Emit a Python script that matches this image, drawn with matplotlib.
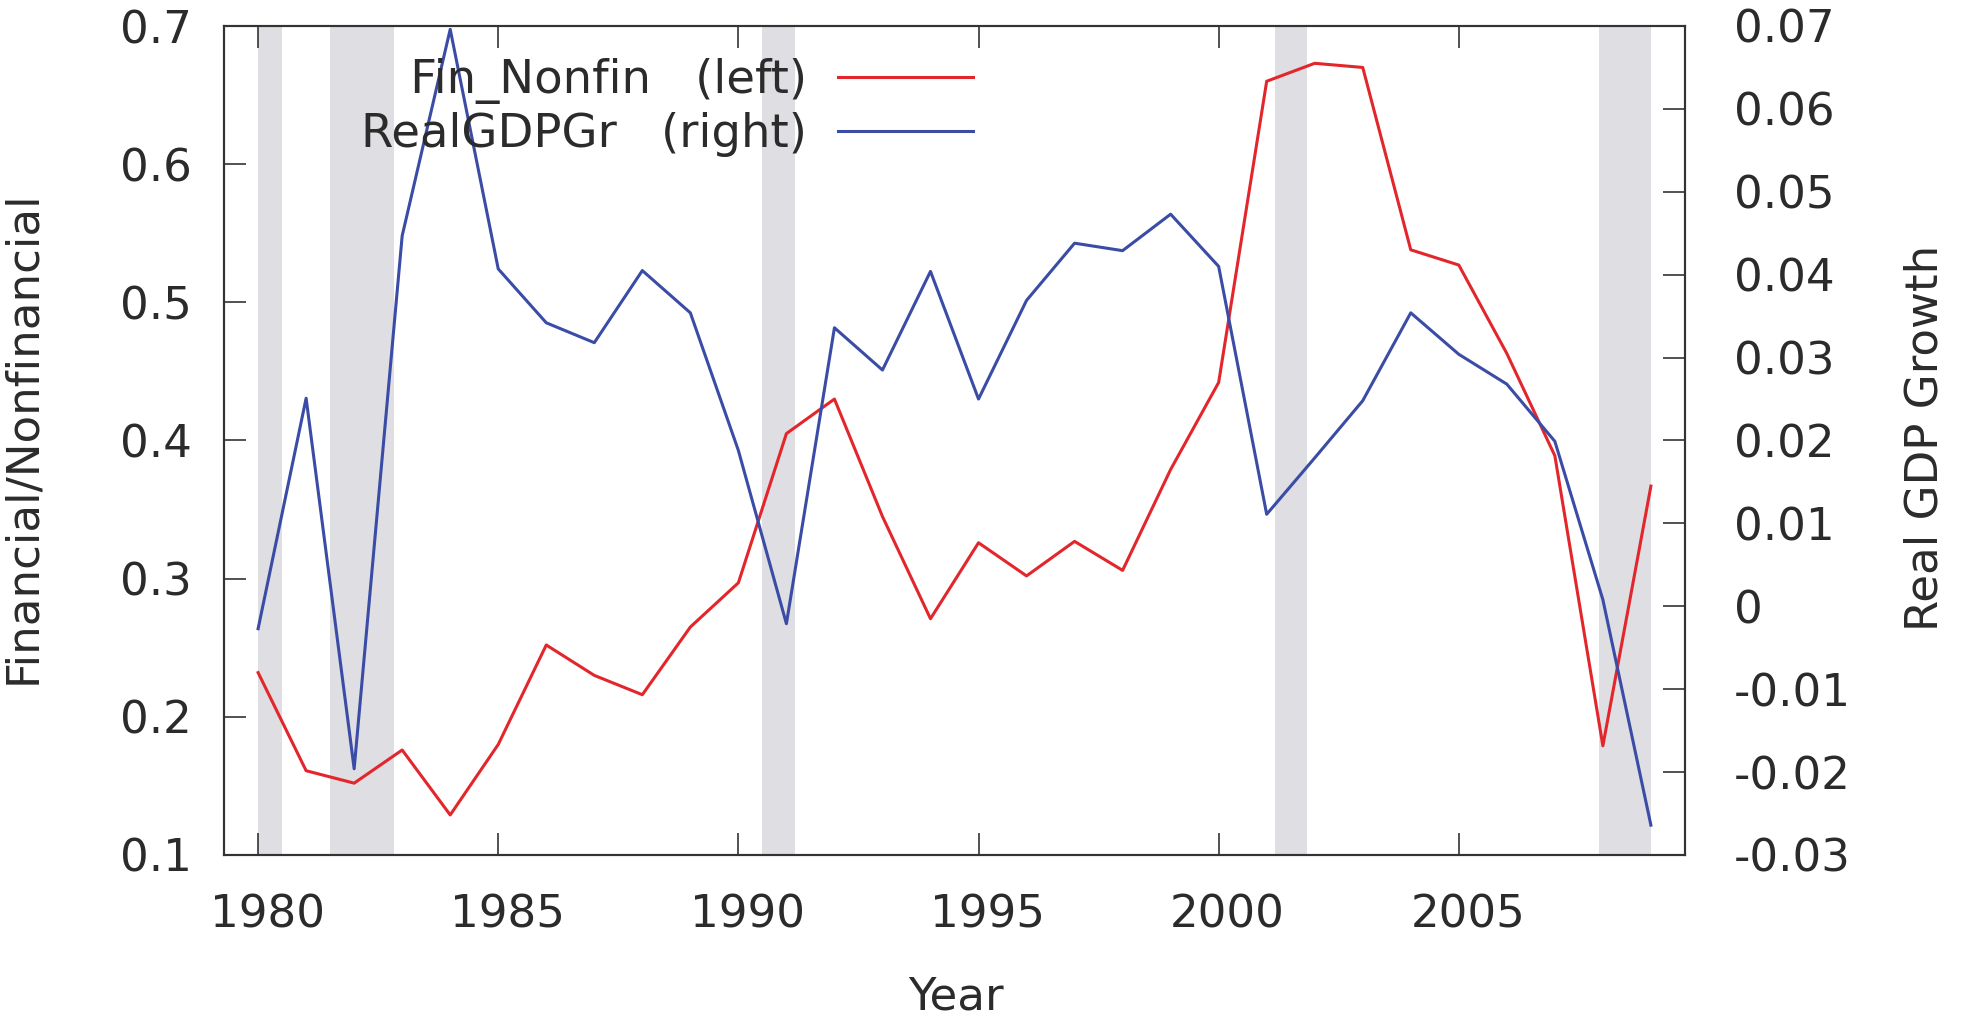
import matplotlib
matplotlib.use("Agg")
import matplotlib.pyplot as plt
import matplotlib.transforms as mtransforms
import numpy as np

years = list(range(1980, 2010))
fin_nonfin = [0.232, 0.161, 0.152, 0.176, 0.129, 0.180, 0.252, 0.230, 0.216, 0.265,
              0.297, 0.405, 0.430, 0.345, 0.271, 0.326, 0.302, 0.327, 0.306, 0.379,
              0.442, 0.660, 0.673, 0.670, 0.538, 0.527, 0.463, 0.389, 0.179, 0.367]
real_gdp_gr = [-0.0027, 0.0251, -0.0196, 0.0447, 0.0696, 0.0407, 0.0342, 0.0318, 0.0405, 0.0354,
               0.0188, -0.0021, 0.0336, 0.0285, 0.0404, 0.0250, 0.0369, 0.0438, 0.0429, 0.0473,
               0.0410, 0.0111, 0.0179, 0.0248, 0.0354, 0.0304, 0.0268, 0.0199, 0.0008, -0.0264]
recessions = [(1980.0, 1980.5), (1981.5, 1982.83), (1990.5, 1991.17),
              (2001.17, 2001.83), (2007.92, 2009.0)]
xticks = [1980, 1985, 1990, 1995, 2000, 2005]
left_ticks = [0.1, 0.2, 0.3, 0.4, 0.5, 0.6, 0.7]
right_ticks = [-0.03, -0.02, -0.01, 0, 0.01, 0.02, 0.03, 0.04, 0.05, 0.06, 0.07]
right_labels = ["-0.03", "-0.02", "-0.01", "0", "0.01", "0.02", "0.03", "0.04", "0.05", "0.06", "0.07"]

TXT = "#2b2b2b"
FS = 32.5
LFS = 33.5
plt.rcParams['font.family'] = ['DejaVu Sans']
plt.rcParams['text.color'] = TXT

fig = plt.figure(figsize=(19.61, 10.17), dpi=100)
ax = fig.add_axes([224/1961, 1-855/1017, (1685-224)/1961, (855-26)/1017])
ax2 = ax.twinx()

for a, b in recessions:
    ax.axvspan(a, b, color="#dedee3", lw=0, zorder=0)

l1, = ax.plot(years, fin_nonfin, color="#e3262b", lw=2.2, zorder=3)
l2, = ax2.plot(years, real_gdp_gr, color="#3a4ca5", lw=2.2, zorder=3)

ax.set_xlim(1979.29, 2009.71)
ax.set_ylim(0.1, 0.7)
ax2.set_ylim(-0.03, 0.07)

ax.set_xticks(xticks)
ax.set_xticklabels([str(x) for x in xticks])
ax.set_yticks(left_ticks)
ax.set_yticklabels([f"{v:.1f}" for v in left_ticks])
ax2.set_yticks(right_ticks)
ax2.set_yticklabels(right_labels)

ax.tick_params(axis='x', direction='in', length=15.8, width=1.2, color="#333333",
               top=True, bottom=True, labelsize=FS, labelcolor=TXT, pad=27.5)
ax.tick_params(axis='y', direction='in', length=15.8, width=1.2, color="#333333",
               left=True, right=False, labelsize=FS, labelcolor=TXT, pad=23)
ax2.tick_params(axis='y', direction='in', length=15.8, width=1.2, color="#333333",
                labelsize=FS, labelcolor=TXT, pad=35)

for a in (ax, ax2):
    for s in a.spines.values():
        s.set_linewidth(1.5)
        s.set_color("#333333")

off = mtransforms.ScaledTranslation(9/100, 0, fig.dpi_scale_trans)
for lab in ax.get_xticklabels():
    lab.set_transform(lab.get_transform() + off)

fig.text(956/1961, 1-1010/1017, "Year", fontsize=FS, ha='center', va='baseline', color=TXT)
fig.text(35/1961, 1-437/1017, "Financial/Nonfinancial", fontsize=FS, rotation=90,
         rotation_mode='anchor', ha='center', va='baseline', color=TXT)
fig.text(1937/1961, 1-438/1017, "Real GDP Growth", fontsize=FS, rotation=90,
         rotation_mode='anchor', ha='center', va='baseline', color=TXT)

leg = ax2.legend([l1, l2], ["   Fin_Nonfin   (left)", "RealGDPGr   (right)"],
                 loc='upper right', bbox_to_anchor=(0.5127, 0.9614), frameon=False,
                 markerfirst=False, fontsize=LFS, handlelength=2.9, handletextpad=0.67,
                 borderpad=0, borderaxespad=0, labelspacing=0.18)
for t in leg.get_texts():
    t.set_color(TXT)

fig.savefig("out.png", dpi=100, facecolor='white')
